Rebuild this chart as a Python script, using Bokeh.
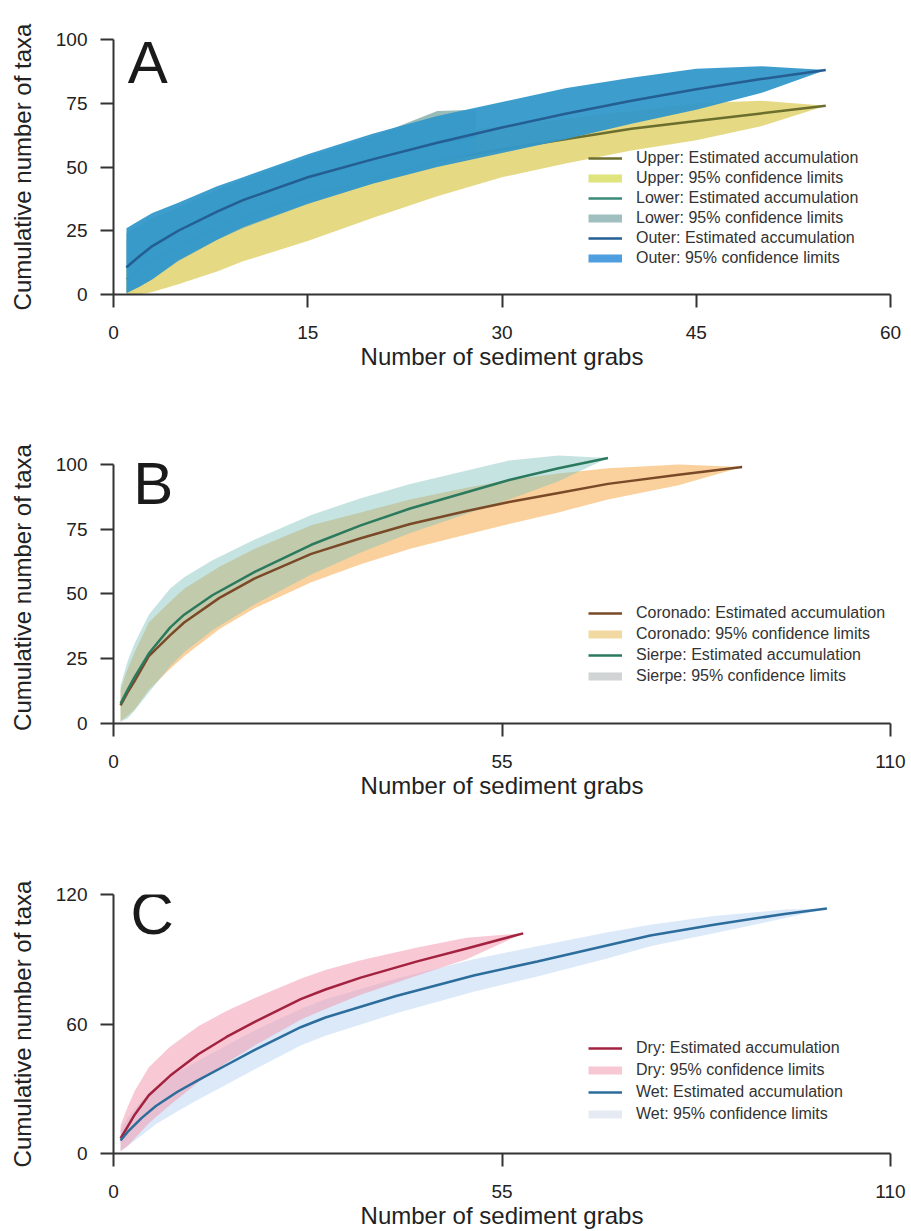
from bokeh.plotting import figure
from bokeh.models import Legend, LegendItem, Label, FixedTicker, Range1d, ColumnDataSource
from bokeh.layouts import column
from bokeh.embed import file_html
from bokeh.resources import INLINE

FONT = "Liberation Sans"
XTITLE = "Number of sediment grabs"
YTITLE = "Cumulative number of taxa"
NAN = float("nan")

# ---------------- Panel A data ----------------
a_upper_x = [1, 2, 3, 5, 8, 10, 15, 20, 25, 30, 35, 40, 45, 50, 55]
a_upper_mean = [6, 10, 13.5, 19, 26, 30, 38.5, 45, 52.5, 57, 61, 65, 68, 71, 74]
a_upper_lo = [0, 0, 1, 4, 9, 13, 21, 30, 38.5, 46, 51.5, 56.5, 60.5, 66, 74]
a_upper_hi = [10, 16, 22, 30, 38, 42, 50, 57, 63, 66, 69, 72, 75, 76, 74]

a_lower_x = [1, 2, 3, 5, 8, 10, 15, 20, 25, 28]
a_lower_mean = [10.5, 15, 19, 25, 32.5, 37, 46, 53, 59.5, 62]
a_lower_lo = [1, 3, 6, 13, 21.5, 26, 35.5, 43.5, 50.5, 56]
a_lower_hi = [24, 27, 30, 34, 41, 45, 54, 62, 72, 72.5]

a_outer_x = [1, 2, 3, 5, 8, 10, 15, 20, 25, 30, 35, 40, 45, 50, 55]
a_outer_mean = [10.7, 15, 19, 25, 32.5, 37, 46, 53, 59.5, 65.5, 71, 76, 80.5, 84.5, 88]
a_outer_lo = [0.5, 3, 6, 13.3, 21.5, 26.4, 35.6, 43.4, 50, 55.5, 61, 67, 72.5, 79, 88]
a_outer_hi = [26, 29, 32, 36, 42.5, 46, 55, 63, 70, 75.5, 81, 85, 88.5, 89.5, 88]

a_xticks = [0, 15, 30, 45, 60]
a_yticks = [0, 25, 50, 75, 100]

# ---------------- Panel B data ----------------
b_cor_x = [1, 2, 3, 5, 8, 10, 15, 20, 28, 35, 42, 50, 56, 63, 70, 80, 89]
b_cor_mean = [7, 12, 16.5, 26, 34, 39, 48.5, 56, 65.5, 71.5, 77, 82, 85.5, 89, 92.5, 96, 99]
b_cor_lo = [1, 3, 5.5, 13, 21, 26, 36.5, 44.5, 54.5, 61.5, 67.5, 73, 77, 81.5, 86.5, 92, 99]
b_cor_hi = [13, 21, 27.5, 39, 47, 52, 60.5, 67.5, 76.5, 81.5, 86.5, 91, 94, 96.5, 98.5, 100, 99]

b_sie_x = [1, 2, 3, 5, 8, 10, 14, 20, 28, 35, 42, 49, 56, 63, 70]
b_sie_mean = [7.7, 13, 18, 27, 37, 42, 49.5, 58.5, 69, 76.5, 83, 88.5, 94, 98.5, 102.5]
b_sie_lo = [0.7, 2, 5, 12, 22, 27.5, 36, 46, 57.5, 66, 73.5, 80, 86.5, 93.5, 102.5]
b_sie_hi = [14.7, 24, 31, 42, 52, 56.5, 63, 71, 80.5, 87, 92.5, 97, 101.5, 103.5, 102.5]

b_xticks = [0, 55, 110]
b_yticks = [0, 25, 50, 75, 100]

# ---------------- Panel C data ----------------
c_dry_x = [1, 2, 3, 5, 8, 12, 16, 20, 26.5, 30, 35, 43, 50, 58]
c_dry_mean = [7, 12.5, 18, 27, 36, 46, 54, 61, 71.5, 76, 81.5, 89, 95, 102]
c_dry_lo = [1, 3.5, 7, 14, 22.5, 33, 42, 50, 62, 67, 73.5, 82.5, 90, 102]
c_dry_hi = [13, 21.5, 29, 40, 49.5, 59, 66, 72, 81, 85, 89.5, 95.5, 100, 102]

c_wet_x = [1, 2, 4, 6, 9, 12, 16, 20, 26.5, 30, 40, 51, 60, 70, 76, 85, 95, 101]
c_wet_mean = [6, 10, 16.5, 22, 28.5, 34, 41, 48, 58.5, 63, 73, 82.5, 89, 96.5, 101, 106, 111, 113.5]
c_wet_lo = [1, 3.5, 8.5, 13.5, 19.5, 25, 32, 39, 50, 54.5, 65, 75, 82, 90.5, 96, 102, 109, 113.5]
c_wet_hi = [11, 16.5, 24.5, 30.5, 37.5, 43, 50, 57, 67, 71.5, 81, 90, 96, 102.5, 106, 110, 113, 113.5]

c_xticks = [0, 55, 110]
c_yticks = [0, 60, 120]


def make_fig(height, top, bottom, right, xr, yr, xticks, yticks, ybounds):
    p = figure(width=911, height=height,
               x_range=Range1d(*xr), y_range=Range1d(*yr),
               output_backend="svg", toolbar_location=None,
               min_border_left=113, min_border_right=right,
               min_border_top=top, min_border_bottom=bottom)
    p.outline_line_color = None
    p.grid.visible = False
    p.background_fill_color = "white"
    p.border_fill_color = "white"
    p.xaxis.ticker = FixedTicker(ticks=xticks)
    p.yaxis.ticker = FixedTicker(ticks=yticks)
    p.yaxis.bounds = ybounds
    p.xaxis.axis_label = XTITLE
    p.yaxis.axis_label = YTITLE
    for ax in p.axis:
        ax.axis_line_color = "#333333"
        ax.axis_line_width = 2
        ax.major_tick_line_color = "#333333"
        ax.major_tick_line_width = 2
        ax.major_tick_out = 13
        ax.major_tick_in = 0
        ax.minor_tick_line_color = None
        ax.major_label_text_font = FONT
        ax.major_label_text_font_size = "19px"
        ax.major_label_text_color = "#222222"
        ax.axis_label_text_font = FONT
        ax.axis_label_text_font_size = "24px"
        ax.axis_label_text_font_style = "normal"
        ax.axis_label_text_color = "#222222"
    p.xaxis.major_label_standoff = 18
    p.xaxis.axis_label_standoff = 1
    p.yaxis.major_label_standoff = 13
    p.yaxis.axis_label_standoff = 17
    return p


def band(p, xs, lo, hi, color, alpha):
    src = ColumnDataSource(dict(x=xs, lo=lo, hi=hi))
    return p.varea(x="x", y1="lo", y2="hi", source=src, fill_color=color, fill_alpha=alpha)


def curve(p, xs, ys, color):
    src = ColumnDataSource(dict(x=xs, y=ys))
    return p.line(x="x", y="y", source=src, line_color=color, line_width=2.5)


def swatch(p, color):
    # legend-only key: a single undefined point draws nothing in the plot
    src = ColumnDataSource(dict(x=[NAN], y=[NAN]))
    return p.line(x="x", y="y", source=src, line_color=color, line_width=8)


def add_legend(p, items, x, y, spacing):
    leg = Legend(items=[LegendItem(label=l, renderers=[r]) for l, r in items],
                 location=(x, y), orientation="vertical",
                 padding=0, margin=0, spacing=spacing,
                 glyph_width=34, glyph_height=18, label_height=18,
                 label_standoff=14,
                 label_text_font=FONT, label_text_font_size="16px",
                 label_text_color="#333333",
                 background_fill_alpha=0, border_line_alpha=0)
    p.add_layout(leg)


def letter(p, text, x, y):
    p.add_layout(Label(x=x, y=y, text=text, text_font=FONT, text_font_size="60px",
                       text_color="#1a1a1a", text_baseline="alphabetic"))


# ---------------- Figure A ----------------
pA = make_fig(405, 39, 111, 20, (0, 60), (0, 100), a_xticks, a_yticks, (0, 100))
band(pA, a_upper_x, a_upper_lo, a_upper_hi, "#e0d26e", 0.85)
lA1 = curve(pA, a_upper_x, a_upper_mean, "#6b6e2c")
band(pA, a_lower_x, a_lower_lo, a_lower_hi, "#8fb5b0", 0.9)
lA2 = curve(pA, a_lower_x, a_lower_mean, "#3a8a7a")
band(pA, a_outer_x, a_outer_lo, a_outer_hi, "#3398c9", 0.95)
lA3 = curve(pA, a_outer_x, a_outer_mean, "#245e92")
add_legend(pA, [("Upper: Estimated accumulation", lA1),
                ("Upper: 95% confidence limits", swatch(pA, "#dfe47c")),
                ("Lower: Estimated accumulation", lA2),
                ("Lower: 95% confidence limits", swatch(pA, "#9fc0bf")),
                ("Outer: Estimated accumulation", lA3),
                ("Outer: 95% confidence limits", swatch(pA, "#4f9fe0"))],
           475, 27, 2)
letter(pA, "A", 1.1, 91)

# ---------------- Figure B ----------------
pB = make_fig(430, 46, 112, 21, (0, 110), (0, 105), b_xticks, b_yticks, (0, 100))
band(pB, b_cor_x, b_cor_lo, b_cor_hi, "#f8c27c", 0.75)
band(pB, b_sie_x, b_sie_lo, b_sie_hi, "#7cc0bc", 0.45)
lB1 = curve(pB, b_cor_x, b_cor_mean, "#7a4a28")
lB2 = curve(pB, b_sie_x, b_sie_mean, "#2b7a5e")
add_legend(pB, [("Coronado: Estimated accumulation", lB1),
                ("Coronado: 95% confidence limits", swatch(pB, "#f2d9a2")),
                ("Sierpe: Estimated accumulation", lB2),
                ("Sierpe: 95% confidence limits", swatch(pB, "#d0d4d4"))],
           475, 38, 3)
letter(pB, "B", 2.8, 92.5)

# ---------------- Figure C ----------------
pC = make_fig(396, 59, 78, 21, (0, 110), (0, 120), c_xticks, c_yticks, (0, 120))
band(pC, c_wet_x, c_wet_lo, c_wet_hi, "#cfe2f7", 0.75)
band(pC, c_dry_x, c_dry_lo, c_dry_hi, "#f39ab0", 0.55)
lC1 = curve(pC, c_dry_x, c_dry_mean, "#a3223f")
lC2 = curve(pC, c_wet_x, c_wet_mean, "#2c6d9c")
add_legend(pC, [("Dry: Estimated accumulation", lC1),
                ("Dry: 95% confidence limits", swatch(pC, "#f7c8d3")),
                ("Wet: Estimated accumulation", lC2),
                ("Wet: 95% confidence limits", swatch(pC, "#e6ebf3"))],
           475, 30, 4)
letter(pC, "C", 2.4, 111)

layout = column(pA, pB, pC)
open("out.html", "w").write(file_html(layout, INLINE))
